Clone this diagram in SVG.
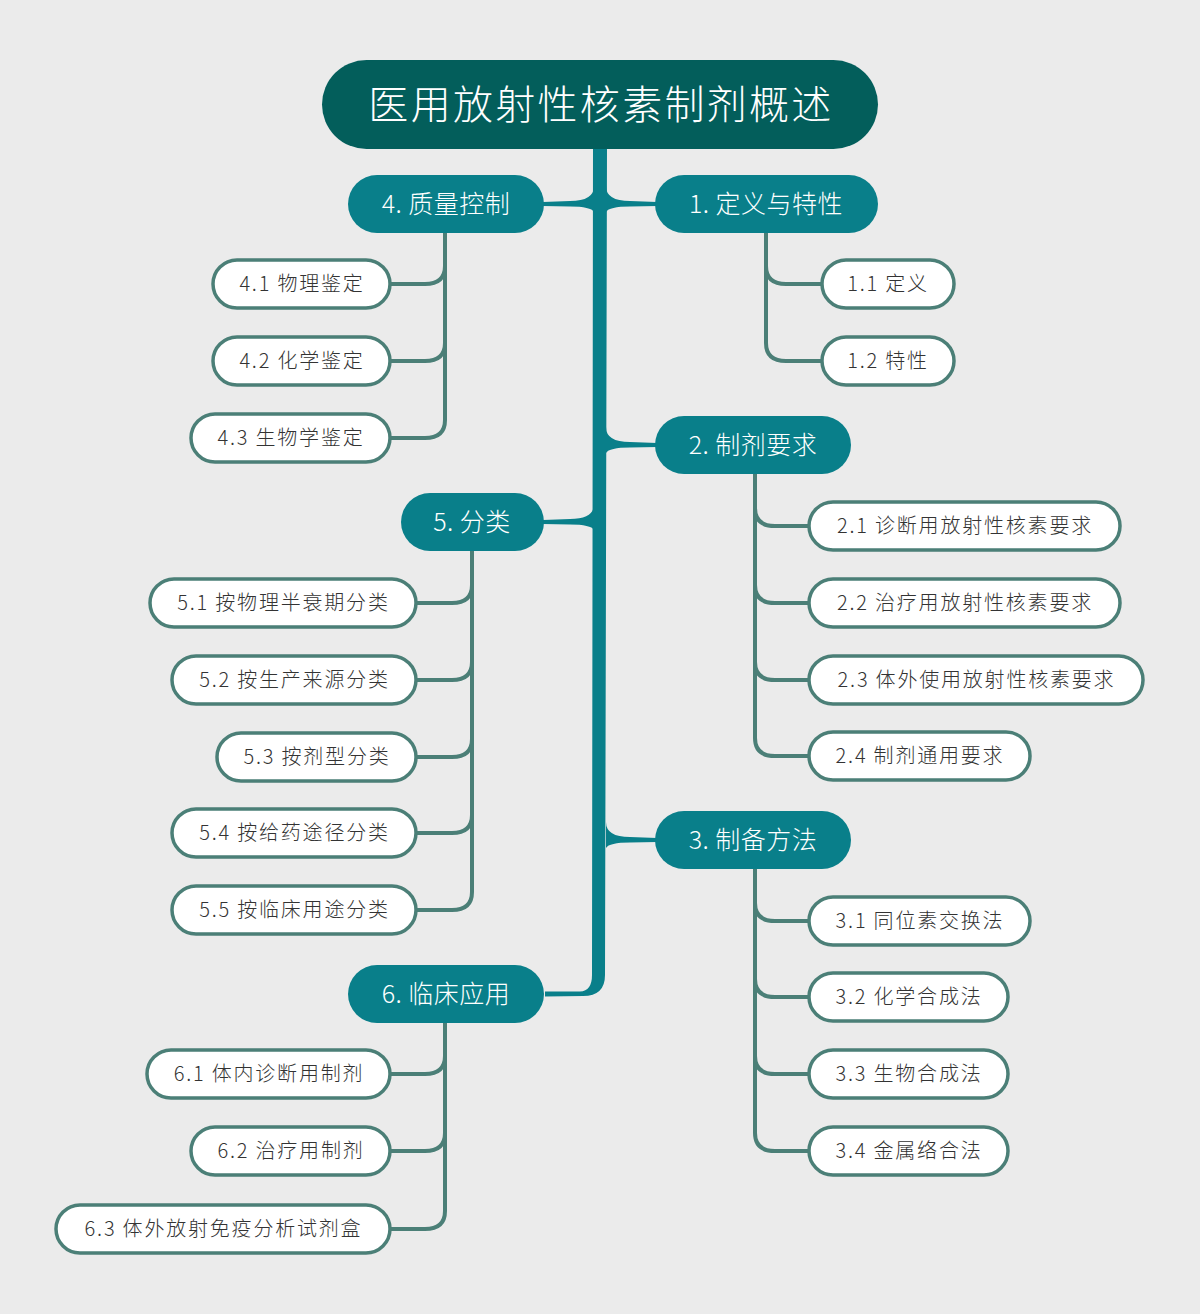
<svg xmlns="http://www.w3.org/2000/svg" width="1200" height="1314" viewBox="0 0 1200 1314">
<style>
.root rect{fill:#035e5b}
.root text{fill:#ffffff;font-size:40px;letter-spacing:2.3px}
.main rect{fill:#097f8a}
.main text{fill:#ffffff;font-size:25px;letter-spacing:0.5px}
.leaf rect{fill:#ffffff;stroke:#4b7f77;stroke-width:3.5}
.leaf text{fill:#333333;font-size:20px;letter-spacing:1.8px}
text{font-family:"Noto Sans CJK SC","Noto Sans",sans-serif;font-weight:300;text-anchor:middle;dominant-baseline:central}
.sub{fill:none;stroke:#4b7f77;stroke-width:4;stroke-linecap:round}
.br{fill:#097f8a}
</style>
<rect width="1200" height="1314" fill="#ebebeb"/>
<g id="connectors">
<path class="br" d="M593,146 L607,146 L605,975 Q605,996 583,996 L545,996.5 L545,991.5 L580,991.5 Q592,991 592,975 Z"/>
<path class="br" d="M606,186 Q606,201 630,201 L657,202 L657,206 L630,206.5 Q609,206.5 606,212 Z"/>
<path class="br" d="M606,427 Q606,442 630,442 L657,443 L657,447 L630,447.5 Q609,447.5 606,453 Z"/>
<path class="br" d="M606,822 Q606,837 630,837 L657,838 L657,842 L630,842.5 Q609,842.5 606,848 Z"/>
<path class="br" d="M594,186 Q594,201 570,201 L543,202 L543,206 L570,206.5 Q591,206.5 594,212 Z"/>
<path class="br" d="M594,504 Q594,519 570,519 L543,520 L543,524 L570,524.5 Q591,524.5 594,530 Z"/>
<path class="sub" d="M766,233 L766,266 Q766,284 786,284 L822,284"/>
<path class="sub" d="M766,233 L766,343 Q766,361 786,361 L822,361"/>
<path class="sub" d="M445,233 L445,266 Q445,284 425,284 L390,284"/>
<path class="sub" d="M445,233 L445,343 Q445,361 425,361 L390,361"/>
<path class="sub" d="M445,233 L445,420 Q445,438 425,438 L390,438"/>
<path class="sub" d="M755,474 L755,508 Q755,526 775,526 L809,526"/>
<path class="sub" d="M755,474 L755,585 Q755,603 775,603 L809,603"/>
<path class="sub" d="M755,474 L755,662 Q755,680 775,680 L809,680"/>
<path class="sub" d="M755,474 L755,738 Q755,756 775,756 L809,756"/>
<path class="sub" d="M472,551 L472,585 Q472,603 452,603 L416,603"/>
<path class="sub" d="M472,551 L472,662 Q472,680 452,680 L416,680"/>
<path class="sub" d="M472,551 L472,739 Q472,757 452,757 L416,757"/>
<path class="sub" d="M472,551 L472,815 Q472,833 452,833 L416,833"/>
<path class="sub" d="M472,551 L472,892 Q472,910 452,910 L416,910"/>
<path class="sub" d="M755,869 L755,903 Q755,921 775,921 L809,921"/>
<path class="sub" d="M755,869 L755,979 Q755,997 775,997 L809,997"/>
<path class="sub" d="M755,869 L755,1056 Q755,1074 775,1074 L809,1074"/>
<path class="sub" d="M755,869 L755,1133 Q755,1151 775,1151 L809,1151"/>
<path class="sub" d="M445,1023 L445,1056 Q445,1074 425,1074 L390,1074"/>
<path class="sub" d="M445,1023 L445,1133 Q445,1151 425,1151 L390,1151"/>
<path class="sub" d="M445,1023 L445,1211 Q445,1229 425,1229 L390,1229"/>
</g>
<g id="root" class="root"><rect x="322" y="60" width="556" height="89" rx="44.5"/><text x="601" y="102">医用放射性核素制剂概述</text></g>
<g id="n1" class="main"><rect x="655" y="175" width="223" height="58" rx="29"/><text x="766" y="202">1. 定义与特性</text></g>
<g id="n2" class="main"><rect x="655" y="416" width="196" height="58" rx="29"/><text x="753" y="443">2. 制剂要求</text></g>
<g id="n3" class="main"><rect x="655" y="811" width="196" height="58" rx="29"/><text x="753" y="838">3. 制备方法</text></g>
<g id="n4" class="main"><rect x="348" y="175" width="196" height="58" rx="29"/><text x="446" y="202">4. 质量控制</text></g>
<g id="n5" class="main"><rect x="401" y="493" width="143" height="58" rx="29"/><text x="472" y="520">5. 分类</text></g>
<g id="n6" class="main"><rect x="348" y="965" width="196" height="58" rx="29"/><text x="446" y="992">6. 临床应用</text></g>
<g id="n1-1" class="leaf"><rect x="822" y="260" width="132" height="48" rx="24"/><text x="888" y="282.5">1.1 定义</text></g>
<g id="n1-2" class="leaf"><rect x="822" y="337" width="132" height="48" rx="24"/><text x="888" y="359.5">1.2 特性</text></g>
<g id="n4-1" class="leaf"><rect x="213" y="260" width="177" height="48" rx="24"/><text x="302" y="282.5">4.1 物理鉴定</text></g>
<g id="n4-2" class="leaf"><rect x="213" y="337" width="177" height="48" rx="24"/><text x="302" y="359.5">4.2 化学鉴定</text></g>
<g id="n4-3" class="leaf"><rect x="191" y="414" width="199" height="48" rx="24"/><text x="291" y="436.5">4.3 生物学鉴定</text></g>
<g id="n2-1" class="leaf"><rect x="809" y="502" width="311" height="48" rx="24"/><text x="965" y="524.5">2.1 诊断用放射性核素要求</text></g>
<g id="n2-2" class="leaf"><rect x="809" y="579" width="311" height="48" rx="24"/><text x="965" y="601.5">2.2 治疗用放射性核素要求</text></g>
<g id="n2-3" class="leaf"><rect x="809" y="656" width="334" height="48" rx="24"/><text x="976.5" y="678.5">2.3 体外使用放射性核素要求</text></g>
<g id="n2-4" class="leaf"><rect x="809" y="732" width="221" height="48" rx="24"/><text x="920" y="754.5">2.4 制剂通用要求</text></g>
<g id="n5-1" class="leaf"><rect x="150" y="579" width="266" height="48" rx="24"/><text x="283.5" y="601.5">5.1 按物理半衰期分类</text></g>
<g id="n5-2" class="leaf"><rect x="172" y="656" width="244" height="48" rx="24"/><text x="294.5" y="678.5">5.2 按生产来源分类</text></g>
<g id="n5-3" class="leaf"><rect x="217" y="733" width="199" height="48" rx="24"/><text x="317" y="755.5">5.3 按剂型分类</text></g>
<g id="n5-4" class="leaf"><rect x="172" y="809" width="244" height="48" rx="24"/><text x="294.5" y="831.5">5.4 按给药途径分类</text></g>
<g id="n5-5" class="leaf"><rect x="172" y="886" width="244" height="48" rx="24"/><text x="294.5" y="908.5">5.5 按临床用途分类</text></g>
<g id="n3-1" class="leaf"><rect x="809" y="897" width="221" height="48" rx="24"/><text x="920" y="919.5">3.1 同位素交换法</text></g>
<g id="n3-2" class="leaf"><rect x="809" y="973" width="199" height="48" rx="24"/><text x="909" y="995.5">3.2 化学合成法</text></g>
<g id="n3-3" class="leaf"><rect x="809" y="1050" width="199" height="48" rx="24"/><text x="909" y="1072.5">3.3 生物合成法</text></g>
<g id="n3-4" class="leaf"><rect x="809" y="1127" width="199" height="48" rx="24"/><text x="909" y="1149.5">3.4 金属络合法</text></g>
<g id="n6-1" class="leaf"><rect x="147" y="1050" width="243" height="48" rx="24"/><text x="269" y="1072.5">6.1 体内诊断用制剂</text></g>
<g id="n6-2" class="leaf"><rect x="191" y="1127" width="199" height="48" rx="24"/><text x="291" y="1149.5">6.2 治疗用制剂</text></g>
<g id="n6-3" class="leaf"><rect x="56" y="1205" width="334" height="48" rx="24"/><text x="223.5" y="1227.5">6.3 体外放射免疫分析试剂盒</text></g>
</svg>
